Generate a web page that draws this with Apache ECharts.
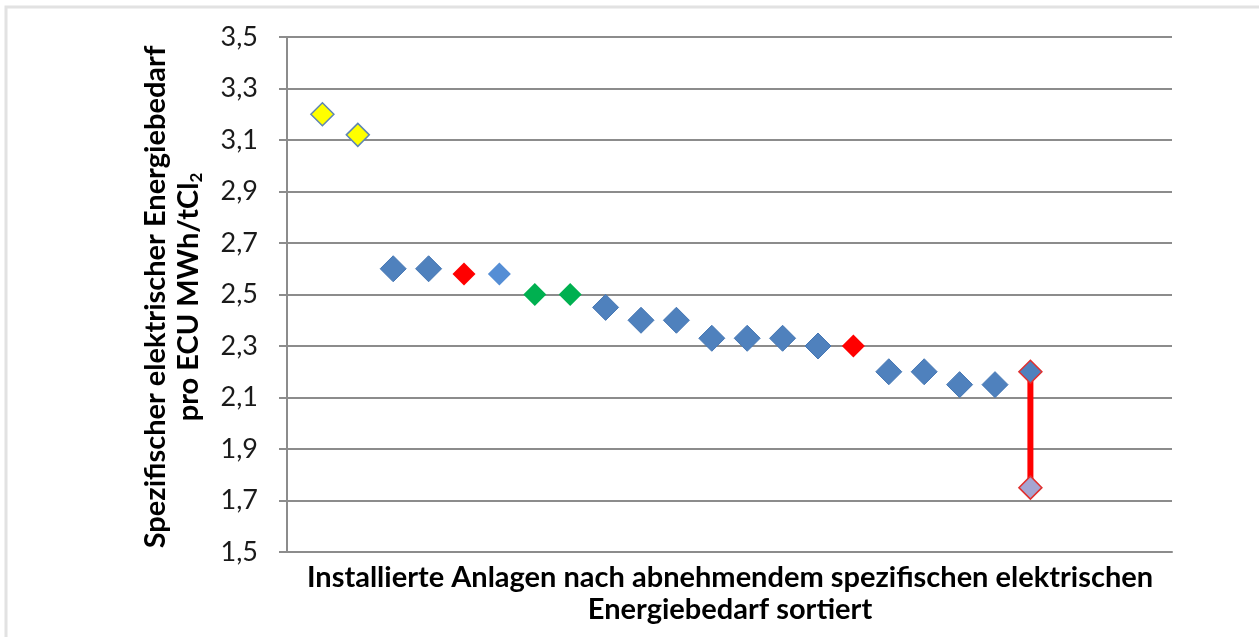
<!DOCTYPE html>
<html>
<head>
<meta charset="utf-8">
<script src="https://cdn.jsdelivr.net/npm/echarts@6/dist/echarts.min.js"></script>
<style>
  html, body { margin: 0; padding: 0; background: #fff; }
  #chart { width: 1259px; height: 637px; }
</style>
</head>
<body>
<div id="chart"></div>
<script>
// Rank of each plant (sorted by decreasing specific energy demand)
const rank = [1, 2, 3, 4, 5, 6, 7, 8, 9, 10, 11, 12, 13, 14, 15, 16, 17, 18, 19, 20, 21];
// Specific electrical energy demand per ECU, MWh/tCl2
const energy = [3.2, 3.12, 2.6, 2.6, 2.58, 2.58, 2.5, 2.5, 2.45, 2.4, 2.4, 2.33, 2.33, 2.33, 2.3, 2.3, 2.2, 2.2, 2.15, 2.15, 2.2];
// Marker group of each plant
const group = ['gelb', 'gelb', 'blau', 'blau', 'rot', 'hellblau', 'gruen', 'gruen', 'blau', 'blau', 'blau', 'blau', 'blau', 'blau', 'blau', 'rot', 'blau', 'blau', 'blau', 'blau', 'spanne'];
// Lower end of the range given for the last plant
const spanLow = 1.75;
// Y axis ticks
const yMin = 1.5, yMax = 3.5, yStep = 0.2;

const styles = {
  gelb:     { color: '#FFFF00', borderColor: '#5F86B3', borderWidth: 1.5, size: 23 },
  blau:     { color: '#4F81BD', borderColor: '#4677B4', borderWidth: 1, size: 26 },
  hellblau: { color: '#558ED5', borderColor: '#558ED5', borderWidth: 0, size: 23 },
  rot:      { color: '#FF0000', borderColor: '#FF0000', borderWidth: 0, size: 23 },
  gruen:    { color: '#00B050', borderColor: '#00B050', borderWidth: 0, size: 23 },
  spanne:   { color: '#4F81BD', borderColor: '#E0302F', borderWidth: 1.5, size: 23 }
};

const series = [];
const spanIdx = group.indexOf('spanne');
// range bar for the last plant
series.push({
  type: 'line',
  data: [[rank[spanIdx], spanLow], [rank[spanIdx], energy[spanIdx]]],
  symbol: 'none',
  lineStyle: { color: '#FF0000', width: 6 },
  z: 2,
  silent: true
});
Object.keys(styles).forEach(function (g) {
  const s = styles[g];
  const pts = [];
  rank.forEach(function (r, i) { if (group[i] === g) pts.push([r, energy[i]]); });
  series.push({
    type: 'scatter',
    symbol: 'diamond',
    symbolSize: s.size,
    data: pts,
    itemStyle: { color: s.color, borderColor: s.borderColor, borderWidth: s.borderWidth, opacity: 1 },
    z: 3
  });
});
// lower end of the range
series.push({
  type: 'scatter',
  symbol: 'diamond',
  symbolSize: 23,
  data: [[rank[spanIdx], spanLow]],
  itemStyle: { color: '#A5A5D2', borderColor: '#E0302F', borderWidth: 1.5, opacity: 1 },
  z: 3
});

const chart = echarts.init(document.getElementById('chart'), null, { renderer: 'canvas' });
chart.setOption({
  animation: false,
  backgroundColor: '#fff',
  grid: { left: 287, right: 87, top: 37, bottom: 85 },
  xAxis: {
    type: 'value',
    min: 0,
    max: 25,
    axisLine: { show: true, lineStyle: { color: '#8C8C8C', width: 2 } },
    axisTick: { show: false },
    axisLabel: { show: false },
    splitLine: { show: false }
  },
  yAxis: {
    type: 'value',
    min: yMin,
    max: yMax,
    interval: yStep,
    axisLine: { show: true, lineStyle: { color: '#8C8C8C', width: 2 } },
    axisTick: { show: true, inside: false, length: 8, lineStyle: { color: '#8C8C8C', width: 2 } },
    axisLabel: {
      margin: 29,
      color: '#1a1a1a',
      fontFamily: 'Lato',
      fontSize: 27,
      formatter: function (v) { return v.toFixed(1).replace('.', ','); }
    },
    splitLine: { show: true, lineStyle: { color: '#8C8C8C', width: 2 } }
  },
  graphic: [
    {
      type: 'rect',
      shape: { x: 6, y: 7, width: 1400, height: 800 },
      style: { fill: 'none', stroke: '#E2E2E2', lineWidth: 3 },
      silent: true
    },
    {
      type: 'text',
      x: 172,
      y: 297,
      rotation: Math.PI / 2,
      style: {
        text: 'Spezifischer elektrischer Energiebedarf\npro ECU MWh/tCl{sub|2}',
        rich: {
          sub: { fontSize: 17, fontWeight: 'bold', fontFamily: 'Lato', fill: '#000', verticalAlign: 'bottom', padding: [16, 0, 0, 0] }
        },
        font: 'bold 29px Lato',
        fill: '#000',
        align: 'center',
        verticalAlign: 'middle',
        lineHeight: 33
      }
    },
    {
      type: 'text',
      x: 730,
      y: 594,
      style: {
        text: 'Installierte Anlagen nach abnehmendem spezifischen elektrischen\nEnergiebedarf sortiert',
        font: 'bold 29px Lato',
        fill: '#000',
        align: 'center',
        verticalAlign: 'middle',
        lineHeight: 32
      }
    }
  ],
  series: series
});
</script>
</body>
</html>
